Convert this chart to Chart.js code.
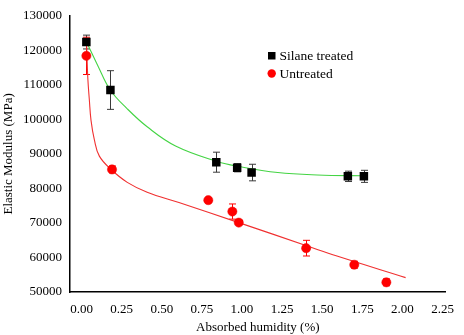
<!DOCTYPE html>
<html>
<head>
<meta charset="utf-8">
<script src="https://cdn.jsdelivr.net/npm/chart.js@4/dist/chart.umd.min.js"></script>
<style>
  html, body { margin: 0; padding: 0; background: #fff; }
  #wrap { width: 464px; height: 335px; }
</style>
</head>
<body>
<div id="wrap"><canvas id="c" width="464" height="335"></canvas></div>
<script>
// ---- Data ----
const xTickValues = [0.00, 0.25, 0.50, 0.75, 1.00, 1.25, 1.50, 1.75, 2.00, 2.25];
const yTickValues = [50000, 60000, 70000, 80000, 90000, 100000, 110000, 120000, 130000];

const silaneX   = [0.03, 0.18, 0.84, 0.97, 1.06, 1.66, 1.76];
const silaneY   = [122400, 108500, 87600, 86000, 84600, 83500, 83500];
const silaneErr = [2000, 5600, 2900, 1200, 2400, 1500, 1750];

const untreatedX   = [0.03, 0.19, 0.79, 0.94, 0.98, 1.40, 1.70, 1.90];
const untreatedY   = [118400, 85500, 76600, 73300, 70100, 62700, 57900, 52800];
const untreatedErr = [5400, 1000, 600, 2200, 600, 2270, 1000, 1000];

// Trend lines
const silaneTrendX = [0.031, 0.10, 0.179, 0.285, 0.409, 0.586, 0.846, 0.976, 1.223, 1.469, 1.78];
const silaneTrendY = [122400, 115700, 108500, 103050, 97860, 92300, 87800, 86400, 84600, 83900, 83650];

const untreatedTrendX = [0.031, 0.039, 0.049, 0.059, 0.080, 0.111, 0.183, 0.285, 0.409, 0.607, 0.98, 1.403, 1.592, 2.02];
const untreatedTrendY = [122400, 112000, 105400, 99730, 94060, 89350, 85550, 81760, 78900, 75900, 70100, 63400, 60400, 54170];

const seriesLabels = ['Silane treated', 'Untreated'];
const xTitle = 'Absorbed humidity (%)';
const yTitle = 'Elastic Modulus (MPa)';

const toPts = (xs, ys) => xs.map((x, i) => ({ x: x, y: ys[i] }));

const FONT = '"Liberation Serif", "Times New Roman", serif';

const errorBarPlugin = {
  id: 'errorBars',
  beforeDatasetsDraw(chart) {
    const { ctx, scales } = chart;
    const xs = scales.x, ys = scales.y;
    chart.data.datasets.forEach((ds) => {
      if (!ds.errors) return;
      ctx.save();
      ctx.strokeStyle = ds.errorColor;
      ctx.lineWidth = 1;
      ds.data.forEach((p, i) => {
        const e = ds.errors[i];
        const px = Math.round(xs.getPixelForValue(p.x)) + 0.5;
        const top = ys.getPixelForValue(p.y + e);
        const bot = ys.getPixelForValue(p.y - e);
        ctx.beginPath();
        ctx.moveTo(px, top); ctx.lineTo(px, bot);
        ctx.moveTo(px - 3.5, top); ctx.lineTo(px + 3.5, top);
        ctx.moveTo(px - 3.5, bot); ctx.lineTo(px + 3.5, bot);
        ctx.stroke();
      });
      ctx.restore();
    });
  }
};

const legendPlugin = {
  id: 'customLegend',
  afterDraw(chart) {
    const ctx = chart.ctx;
    ctx.save();
    ctx.font = '13.5px ' + FONT;
    ctx.textBaseline = 'middle';
    ctx.textAlign = 'left';
    ctx.fillStyle = '#000';
    ctx.fillRect(268, 52, 7.5, 7.5);
    ctx.fillText(seriesLabels[0], 279.5, 56);
    ctx.fillStyle = '#ff0000';
    ctx.beginPath();
    ctx.arc(271.7, 73.5, 4.2, 0, Math.PI * 2);
    ctx.fill();
    ctx.fillStyle = '#000';
    ctx.fillText(seriesLabels[1], 279.5, 74);
    ctx.restore();
  }
};

new Chart(document.getElementById('c'), {
  type: 'scatter',
  data: {
    datasets: [
      {
        label: seriesLabels[0],
        data: toPts(silaneX, silaneY),
        errors: silaneErr,
        errorColor: '#3a3a3a',
        pointStyle: 'rect',
        pointRadius: 6,
        backgroundColor: '#000',
        borderColor: '#000',
        borderWidth: 0,
        order: 1
      },
      {
        label: seriesLabels[1],
        data: toPts(untreatedX, untreatedY),
        errors: untreatedErr,
        errorColor: '#ff0000',
        pointStyle: 'circle',
        pointRadius: 4.6,
        backgroundColor: '#ff0000',
        borderColor: '#ee0000',
        borderWidth: 0.5,
        order: 2
      },
      {
        label: 'silane trend',
        data: toPts(silaneTrendX, silaneTrendY),
        showLine: true,
        tension: 0.4,
        borderColor: '#44d444',
        borderWidth: 1.1,
        pointRadius: 0,
        fill: false,
        order: 3
      },
      {
        label: 'untreated trend',
        data: toPts(untreatedTrendX, untreatedTrendY),
        showLine: true,
        tension: 0.4,
        borderColor: '#f03030',
        borderWidth: 1.1,
        pointRadius: 0,
        fill: false,
        order: 3
      }
    ]
  },
  options: {
    responsive: false,
    devicePixelRatio: 1,
    animation: false,
    layout: { padding: { left: 1, right: 14, top: 10, bottom: 0 } },
    plugins: {
      legend: { display: false },
      tooltip: { enabled: false }
    },
    scales: {
      x: {
        type: 'linear',
        min: -0.072,
        max: 2.27,
        afterBuildTicks(scale) { scale.ticks = xTickValues.map(v => ({ value: v })); },
        afterFit(scale) { scale.height = 43; },
        grid: { display: false, drawTicks: false },
        border: { display: true, color: '#000', width: 1.5 },
        ticks: {
          autoSkip: false,
          maxRotation: 0,
          padding: 10,
          color: '#000',
          font: { family: FONT, size: 13 },
          callback: (v) => Number(v).toFixed(2)
        },
        title: {
          display: true,
          text: xTitle,
          color: '#000',
          font: { family: FONT, size: 13 },
          padding: { top: 0, bottom: 0 }
        }
      },
      y: {
        type: 'linear',
        min: 50000,
        max: 130000,
        afterBuildTicks(scale) { scale.ticks = yTickValues.map(v => ({ value: v })); },
        afterFit(scale) { scale.width = 69; },
        grid: { display: false, drawTicks: false },
        border: { display: true, color: '#000', width: 1.5 },
        ticks: {
          autoSkip: false,
          padding: 8,
          color: '#000',
          font: { family: FONT, size: 13 },
          callback: (v) => String(v)
        },
        title: {
          display: true,
          text: yTitle,
          color: '#000',
          font: { family: FONT, size: 13 },
          padding: { top: 0, bottom: 0 }
        }
      }
    }
  },
  plugins: [errorBarPlugin, legendPlugin]
});
</script>
</body>
</html>
